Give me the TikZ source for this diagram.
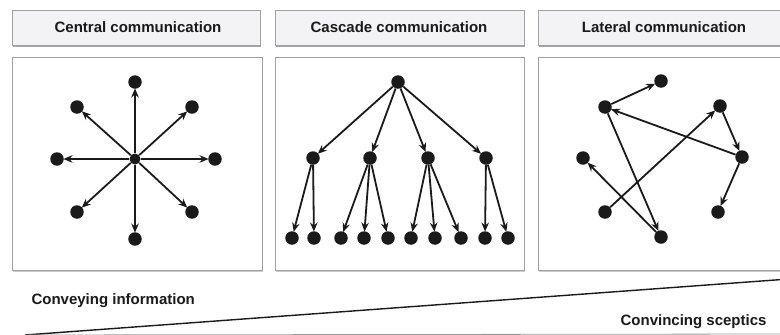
\documentclass[tikz,border=0pt]{standalone}
\usepackage{fontspec}
\setmainfont{Liberation Sans}
\usetikzlibrary{arrows.meta}
\definecolor{ink}{HTML}{1A1A1A}
\definecolor{headfill}{HTML}{F3F3F5}
\definecolor{frame}{HTML}{A0A0A0}
\tikzset{
  dot/.style={circle, fill=ink, inner sep=0pt, minimum size=13.5pt},
  hub/.style={circle, fill=ink, inner sep=0pt, minimum size=11pt},
  link/.style={draw=ink, line width=1.8pt, -{Stealth[length=9pt, width=7.5pt]}, shorten >=-0.5pt},
  headbox/.style={draw=frame, fill=headfill, line width=0.9pt},
  panel/.style={draw=frame, fill=white, line width=0.9pt},
  headtext/.style={font=\bfseries\fontsize{15}{17}\selectfont, text=ink},
  sidetext/.style={font=\bfseries\fontsize{15}{17}\selectfont, text=ink}
}
\begin{document}
\begin{tikzpicture}[x=1pt, y=-1pt]
\useasboundingbox (0,0) rectangle (780,335);
\fill[white] (0,0) rectangle (780,335);

% header bars with a soft lower shadow
\foreach \l/\r in {12/260, 275/524, 538/790} {
  \fill[black!35] (\l+1,12) rectangle (\r+1,46.5);
  \draw[headbox] (\l,10) rectangle (\r,45);
}
\node[headtext] (h1) at (138,27.5) {Central communication};
\node[headtext] (h2) at (399,27.5) {Cascade communication};
\node[headtext] (h3) at (664,27.5) {Lateral communication};

% diagram panels
\foreach \l/\r in {12/262, 275/524, 538/790} {
  \fill[black!20] (\l+1,58) rectangle (\r+1,271.5);
  \draw[panel] (\l,57) rectangle (\r,270);
}

% central communication: star
\node[hub] (c) at (135,159) {};
\node[dot] (c1) at (135,82) {};
\node[dot] (c2) at (192,107) {};
\node[dot] (c3) at (215,159) {};
\node[dot] (c4) at (192,212) {};
\node[dot] (c5) at (135,239) {};
\node[dot] (c6) at (77,212) {};
\node[dot] (c7) at (57,159) {};
\node[dot] (c8) at (77,107) {};
\foreach \t in {c1,c2,c3,c4,c5,c6,c7,c8}
  \draw[link] (c) -- (\t);

% cascade communication: tree
\node[dot] (r) at (398,82) {};
\node[dot] (m1) at (313,158) {};
\node[dot] (m2) at (370,158) {};
\node[dot] (m3) at (428,158) {};
\node[dot] (m4) at (486,158) {};
\foreach \n/\x in {1/292, 2/314, 3/341, 4/364, 5/388, 6/411, 7/435, 8/461, 9/485, 10/508}
  \node[dot] (l\n) at (\x,238) {};
\foreach \t in {m1,m2,m3,m4}
  \draw[link] (r) -- (\t);
\draw[link] (m1) -- (l1);
\draw[link] (m1) -- (l2);
\draw[link] (m2) -- (l3);
\draw[link] (m2) -- (l4);
\draw[link] (m2) -- (l5);
\draw[link] (m3) -- (l6);
\draw[link] (m3) -- (l7);
\draw[link] (m3) -- (l8);
\draw[link] (m4) -- (l9);
\draw[link] (m4) -- (l10);

% lateral communication: network
\node[dot] (a) at (605,107) {};
\node[dot] (b) at (661,81) {};
\node[dot] (k) at (720,106) {};
\node[dot] (d) at (742,157) {};
\node[dot] (e) at (583,158) {};
\node[dot] (f) at (605,212) {};
\node[dot] (g) at (718,212) {};
\node[dot] (h) at (661,237) {};
\draw[link] (a) -- (b);
\draw[link] (d) -- (a);
\draw[link] (a) -- (h);
\draw[link] (f) -- (k);
\draw[link] (k) -- (d);
\draw[link] (d) -- (g);
\draw[link] (h) -- (e);

% wedge from information to persuasion
\coordinate (w0) at (25,335);
\coordinate (w1) at (782,279.5);
\coordinate (w2) at (782,334);
\draw[ink, line width=1.4pt] (w0) -- (w1);
\draw[black!40, line width=0.8pt] (w0) -- (w2);
\node[sidetext, anchor=west] (t1) at (28,301) {Conveying information};
\node[sidetext, anchor=east] (t2) at (770,322) {Convincing sceptics};
\end{tikzpicture}
\end{document}
